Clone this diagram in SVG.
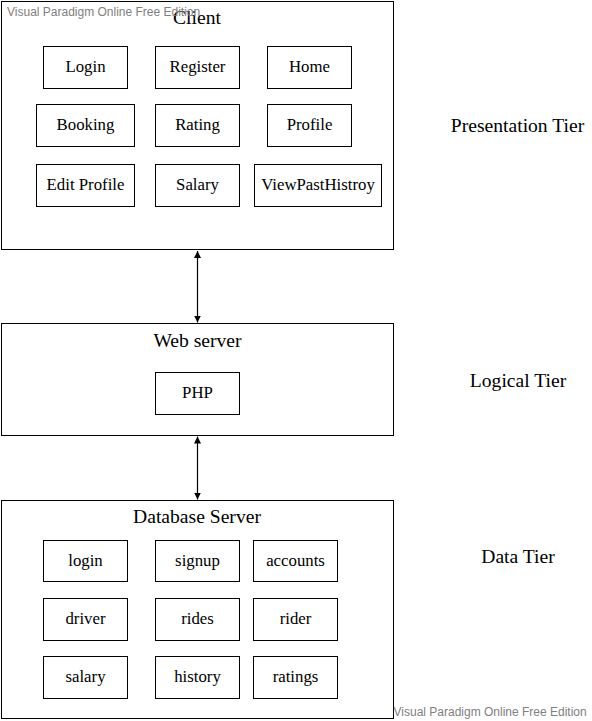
<svg xmlns="http://www.w3.org/2000/svg" width="592" height="721" viewBox="0 0 592 721">
<style>
.box{fill:#fff;stroke:#000;stroke-width:1}
.t{font-family:"Liberation Serif","Times New Roman",serif;font-size:16.8px;fill:#000;text-anchor:middle}
.h{font-family:"Liberation Serif","Times New Roman",serif;font-size:19.6px;fill:#000;text-anchor:middle}
.wm{font-family:"Liberation Sans",Arial,sans-serif;font-size:12px;fill:#808080}
.c{stroke:#000;stroke-width:1.2;fill:none}
</style>
<defs>
<marker id="ah" viewBox="0 0 10 10" refX="10" refY="5" markerWidth="7" markerHeight="7" markerUnits="userSpaceOnUse" orient="auto-start-reverse">
<path d="M0,0 L10,5 L0,10 Z" fill="#000"/>
</marker>
</defs>
<rect width="592" height="721" fill="#fff"/>

<g id="client">
<rect class="box" x="1.5" y="1.5" width="392" height="248"/>
<text class="h" x="197" y="24">Client</text>
</g>
<g id="login-ui"><rect class="box" x="43.5" y="46.5" width="84" height="42"/><text class="t" x="85.5" y="72">Login</text></g>
<g id="register"><rect class="box" x="155.5" y="46.5" width="84" height="42"/><text class="t" x="197.5" y="72">Register</text></g>
<g id="home"><rect class="box" x="267.5" y="46.5" width="84" height="42"/><text class="t" x="309.5" y="72">Home</text></g>
<g id="booking"><rect class="box" x="36.5" y="104.5" width="98" height="42"/><text class="t" x="85.5" y="130">Booking</text></g>
<g id="rating"><rect class="box" x="155.5" y="104.5" width="84" height="42"/><text class="t" x="197.5" y="130">Rating</text></g>
<g id="profile"><rect class="box" x="267.5" y="104.5" width="84" height="42"/><text class="t" x="309.5" y="130">Profile</text></g>
<g id="edit-profile"><rect class="box" x="36.5" y="164.5" width="98" height="42"/><text class="t" x="85.5" y="190">Edit Profile</text></g>
<g id="salary-ui"><rect class="box" x="155.5" y="164.5" width="84" height="42"/><text class="t" x="197.5" y="190">Salary</text></g>
<g id="viewpasthistroy"><rect class="box" x="254.5" y="164.5" width="127" height="42"/><text class="t" x="318" y="190">ViewPastHistroy</text></g>

<g id="webserver">
<rect class="box" x="1.5" y="323.5" width="392" height="112"/>
<text class="h" x="197.5" y="347">Web server</text>
</g>
<g id="php"><rect class="box" x="155.5" y="372.5" width="84" height="42"/><text class="t" x="197.5" y="398">PHP</text></g>

<g id="dbserver">
<rect class="box" x="1.5" y="500.5" width="392" height="218"/>
<text class="h" x="197" y="523">Database Server</text>
</g>
<g id="login-db"><rect class="box" x="43.5" y="540.5" width="84" height="41"/><text class="t" x="85.5" y="566">login</text></g>
<g id="signup"><rect class="box" x="155.5" y="540.5" width="84" height="41"/><text class="t" x="197.5" y="566">signup</text></g>
<g id="accounts"><rect class="box" x="253.5" y="540.5" width="84" height="41"/><text class="t" x="295.5" y="566">accounts</text></g>
<g id="driver"><rect class="box" x="43.5" y="598.5" width="84" height="42"/><text class="t" x="85.5" y="624">driver</text></g>
<g id="rides"><rect class="box" x="155.5" y="598.5" width="84" height="42"/><text class="t" x="197.5" y="624">rides</text></g>
<g id="rider"><rect class="box" x="253.5" y="598.5" width="84" height="42"/><text class="t" x="295.5" y="624">rider</text></g>
<g id="salary-db"><rect class="box" x="43.5" y="656.5" width="84" height="42"/><text class="t" x="85.5" y="682">salary</text></g>
<g id="history"><rect class="box" x="155.5" y="656.5" width="84" height="42"/><text class="t" x="197.5" y="682">history</text></g>
<g id="ratings"><rect class="box" x="253.5" y="656.5" width="84" height="42"/><text class="t" x="295.5" y="682">ratings</text></g>

<g id="connectors">
<line class="c" x1="197.5" y1="251" x2="197.5" y2="322.5" marker-start="url(#ah)" marker-end="url(#ah)"/>
<line class="c" x1="197.5" y1="436.5" x2="197.5" y2="499.5" marker-start="url(#ah)" marker-end="url(#ah)"/>
</g>

<g id="tier-labels">
<text class="h" x="517.5" y="132">Presentation Tier</text>
<text class="h" x="518" y="387">Logical Tier</text>
<text class="h" x="518" y="563">Data Tier</text>
</g>

<g id="watermarks">
<text class="wm" x="7" y="16">Visual Paradigm Online Free Edition</text>
<text class="wm" x="393.5" y="716">Visual Paradigm Online Free Edition</text>
</g>
</svg>
